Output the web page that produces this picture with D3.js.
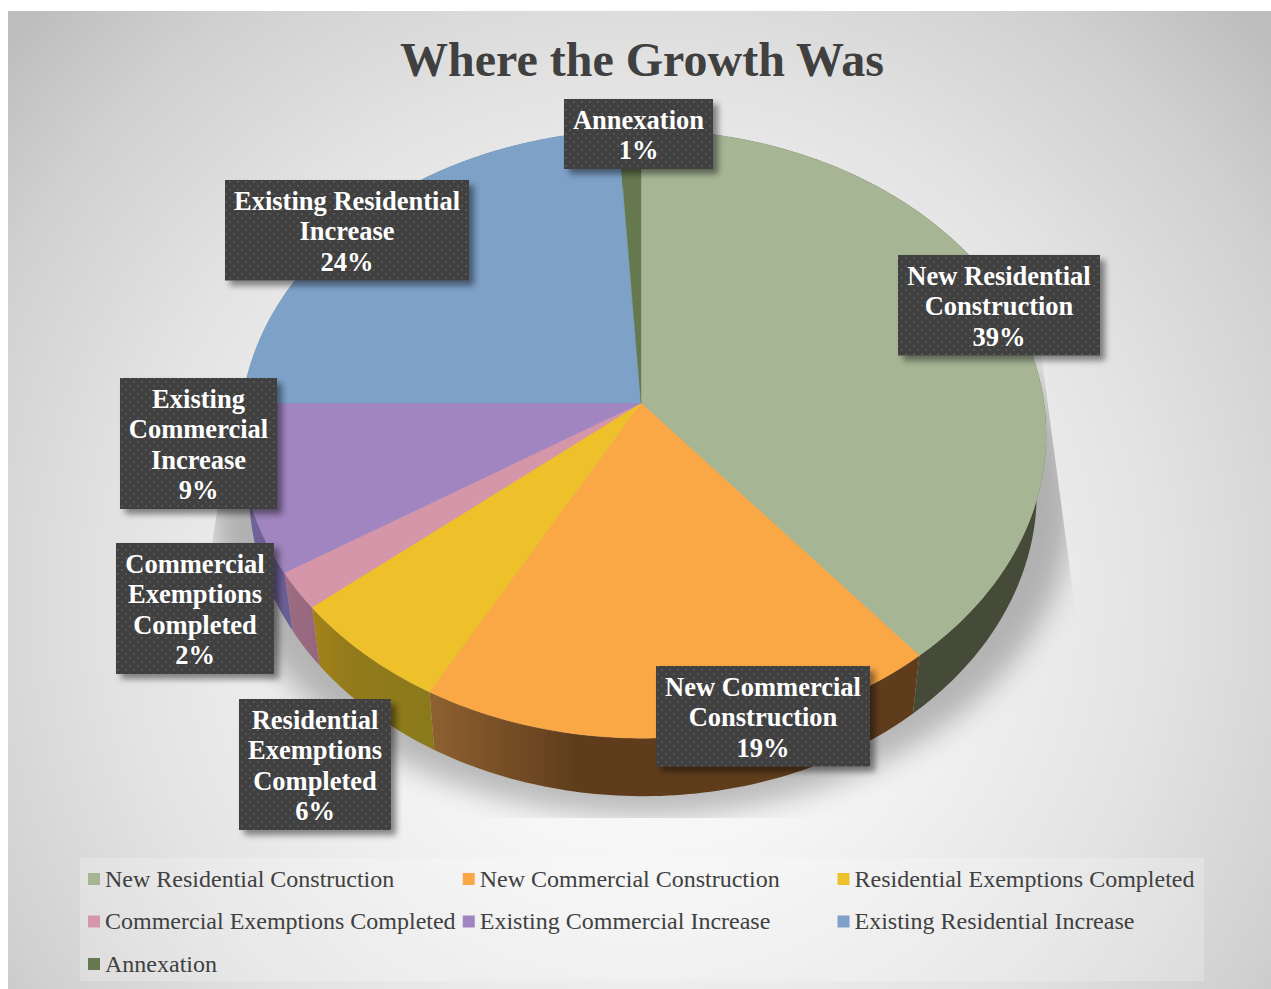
<!DOCTYPE html>
<html>
<head>
<meta charset="utf-8">
<title>Where the Growth Was</title>
<script src="https://cdn.jsdelivr.net/npm/d3@7/dist/d3.min.js"></script>
<style>
  html, body { margin: 0; padding: 0; background: #fff; }
  svg { display: block; }
  text { font-family: "Liberation Serif", serif; }
</style>
</head>
<body>
<script>
// Growth by source, in percent of the total
const categories = [
  "New Residential Construction",
  "New Commercial Construction",
  "Residential Exemptions Completed",
  "Commercial Exemptions Completed",
  "Existing Commercial Increase",
  "Existing Residential Increase",
  "Annexation"
];
const shares = [39, 19, 6, 2, 9, 24, 1];

const faceColors = ["#a6b594", "#faa746", "#eec12a", "#d596aa", "#a085c0", "#7ea1c8", "#65784f"];
// Side wall shading: left, middle and right tone of each slice's rim
const wallTones = [
  ["#454b38", "#454b38", "#454b38"],
  ["#8f6130", "#5f3d1c", "#5f3d1c"],
  ["#a5821a", "#937a1a", "#8a7a1c"],
  ["#a06c84", "#9a6a80", "#94667e"],
  ["#77699f", "#6f6299", "#6a5e95"],
  ["#56708f", "#56708f", "#56708f"],
  ["#46543a", "#46543a", "#46543a"]
];
const labelLines = [
  ["New Residential", "Construction"],
  ["New Commercial", "Construction"],
  ["Residential", "Exemptions", "Completed"],
  ["Commercial", "Exemptions", "Completed"],
  ["Existing", "Commercial", "Increase"],
  ["Existing Residential", "Increase"],
  ["Annexation"]
];
// Callout boxes: left, top, width
const calloutBoxes = [
  [898, 255, 202], [656, 666, 214], [239, 699, 152], [116, 543, 158],
  [120, 378, 157], [225, 180, 244], [564, 99, 149]
];

const W = 1271, H = 989;
const svg = d3.select("body").append("svg").attr("width", W).attr("height", H);
const defs = svg.append("defs");

// Chart area background
const bg = defs.append("radialGradient").attr("id", "bg").attr("gradientUnits", "userSpaceOnUse")
  .attr("cx", 640).attr("cy", 600).attr("r", 840);
[[0, "#ffffff"], [0.3, "#f6f6f6"], [0.62, "#e3e3e3"], [0.85, "#d0d0d0"], [1, "#bebebe"]].forEach(([o, c]) =>
  bg.append("stop").attr("offset", o).attr("stop-color", c));
svg.append("rect").attr("x", 8).attr("y", 11).attr("width", W - 8).attr("height", H - 11).attr("fill", "url(#bg)");

// Callout fill: dark with a staggered dot grid
const dots = defs.append("pattern").attr("id", "dots").attr("patternUnits", "userSpaceOnUse")
  .attr("width", 8).attr("height", 8);
dots.append("rect").attr("width", 8).attr("height", 8).attr("fill", "#3f3f3f");
dots.append("rect").attr("x", 1).attr("y", 1).attr("width", 2).attr("height", 2).attr("fill", "#555555");
dots.append("rect").attr("x", 5).attr("y", 5).attr("width", 2).attr("height", 2).attr("fill", "#555555");

const blur = defs.append("filter").attr("id", "groundBlur")
  .attr("x", "-20%").attr("y", "-20%").attr("width", "140%").attr("height", "140%");
blur.append("feGaussianBlur").attr("stdDeviation", 14);

const boxShadow = defs.append("filter").attr("id", "boxShadow")
  .attr("x", "-15%").attr("y", "-15%").attr("width", "130%").attr("height", "140%");
boxShadow.append("feDropShadow").attr("dx", 5).attr("dy", 5).attr("stdDeviation", 3)
  .attr("flood-color", "#000").attr("flood-opacity", 0.45);

// Tilted disc: polar position on a unit circle seen in perspective
const apex = { x: 641, y: 403 };
const radius = { x: 401, y: 301 };
const tilt = 0.102, skew = 0.005, depth = 58, baseShrink = 0.977;

function topRim(angle, r = 1) {
  const u = r * Math.sin(angle), v = -r * Math.cos(angle);
  const w = 1 - tilt * v - skew * u;
  return [apex.x + radius.x * u / w, apex.y + radius.y * v / w];
}
function baseRim(angle) {
  const [x, y] = topRim(angle);
  return [apex.x + baseShrink * (x - apex.x), y + depth];
}

const slices = d3.pie().sort(null).value(d => d)(shares);
const line = d3.line();
const rimAngles = s => {
  const n = Math.max(4, Math.ceil((s.endAngle - s.startAngle) * 60));
  return d3.range(n + 1).map(i => s.startAngle + (s.endAngle - s.startAngle) * i / n);
};

// Ground shadow, cut off by a flat-edged floor region
const floor = defs.append("clipPath").attr("id", "floor");
const floorEdge = [[1040, 345], [1074, 600], [1120, 818], [170, 818], [218, 505], [222, 385], [641, 300]];
floor.append("path").attr("d", line(floorEdge) + "Z");
const groundAngles = d3.range(0, 2 * Math.PI, 0.05);
svg.append("g").attr("clip-path", "url(#floor)")
  .append("path")
  .attr("d", line(groundAngles.map(a => {
    const [x, y] = baseRim(a);
    return [apex.x + 1.09 * (x - apex.x), y + 8 + (y - apex.y) * 0.03];
  })) + "Z")
  .attr("fill", "#000").attr("fill-opacity", 0.25).attr("filter", "url(#groundBlur)");

// Side walls first; the top faces cover whatever lies behind them
const pieG = svg.append("g");
slices.forEach((s, i) => {
  const angles = rimAngles(s);
  const top = angles.map(a => topRim(a));
  const base = angles.map(a => baseRim(a)).reverse();
  const xs = top.concat(base).map(p => p[0]);
  const grad = defs.append("linearGradient").attr("id", "wall" + i).attr("gradientUnits", "userSpaceOnUse")
    .attr("x1", d3.min(xs)).attr("x2", d3.max(xs)).attr("y1", 0).attr("y2", 0);
  [0, 0.3, 1].forEach((o, j) => grad.append("stop").attr("offset", o).attr("stop-color", wallTones[i][j]));
  pieG.append("path").attr("d", line(top.concat(base)) + "Z").attr("fill", `url(#wall${i})`);
});
slices.forEach((s, i) => {
  const rim = rimAngles(s).map(a => topRim(a));
  pieG.append("path").attr("d", line([[apex.x, apex.y], ...rim]) + "Z")
    .attr("fill", faceColors[i]).attr("stroke", faceColors[i]).attr("stroke-width", 0.4);
});

// Title
svg.append("text").attr("x", 642).attr("y", 76).attr("text-anchor", "middle")
  .attr("font-size", 48).attr("font-weight", 700).attr("fill", "#404040")
  .text("Where the Growth Was");

// Callouts
const lineStep = 30.5;
const pct = d3.format(".0f");
slices.forEach((s, i) => {
  const lines = labelLines[i].concat(pct(shares[i]) + "%");
  const [x, y, w] = calloutBoxes[i];
  const h = lines.length * lineStep + 9;
  const g = svg.append("g");
  g.append("rect").attr("x", x).attr("y", y).attr("width", w).attr("height", h)
    .attr("fill", "url(#dots)").attr("filter", "url(#boxShadow)");
  g.selectAll("text").data(lines).join("text")
    .attr("x", x + w / 2).attr("y", (d, k) => y + 29.5 + k * lineStep)
    .attr("text-anchor", "middle").attr("font-size", 26.5).attr("font-weight", 700).attr("fill", "#fff")
    .text(d => d);
});

// Legend
const legendCols = d3.scalePoint().domain([0, 1, 2]).range([88, 837.5]);
const legendRows = d3.scalePoint().domain([0, 1, 2]).range([879, 964]);
svg.append("rect").attr("x", 80).attr("y", 858).attr("width", 1124).attr("height", 123)
  .attr("fill", "#fff").attr("fill-opacity", 0.22);
const entries = svg.append("g").selectAll("g").data(categories).join("g")
  .attr("transform", (d, i) => `translate(${legendCols(i % 3)},${legendRows(Math.floor(i / 3))})`);
entries.append("rect").attr("y", -6).attr("width", 12).attr("height", 12).attr("fill", (d, i) => faceColors[i]);
entries.append("text").attr("x", 17).attr("y", 7.5).attr("font-size", 24).attr("fill", "#404040").text(d => d);
</script>
</body>
</html>
